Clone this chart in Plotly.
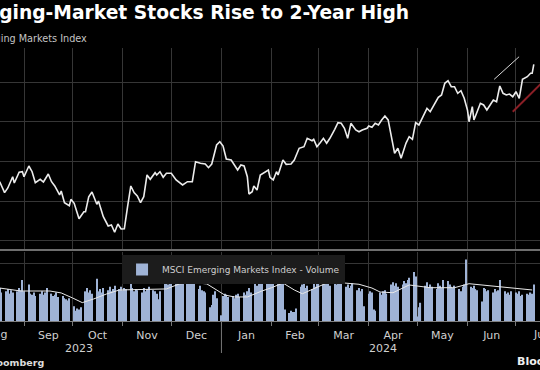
import plotly.graph_objects as go
import pandas as pd

# ---------------- data ----------------
price_dates = [
    "2023-08-17", "2023-08-20", "2023-08-22", "2023-08-25", "2023-08-26", "2023-08-29", "2023-08-31",
    "2023-09-01", "2023-09-04", "2023-09-06", "2023-09-08", "2023-09-11", "2023-09-13", "2023-09-16",
    "2023-09-18", "2023-09-20", "2023-09-23", "2023-09-24", "2023-09-26", "2023-09-29", "2023-09-30",
    "2023-10-02", "2023-10-05", "2023-10-08", "2023-10-09", "2023-10-11", "2023-10-13", "2023-10-16",
    "2023-10-17", "2023-10-20", "2023-10-23", "2023-10-25", "2023-10-27", "2023-10-29", "2023-10-31",
    "2023-11-02", "2023-11-04", "2023-11-06", "2023-11-08", "2023-11-10", "2023-11-12", "2023-11-14",
    "2023-11-16", "2023-11-18", "2023-11-21", "2023-11-22", "2023-11-24", "2023-11-26", "2023-11-28",
    "2023-12-01", "2023-12-04", "2023-12-06", "2023-12-08", "2023-12-11", "2023-12-14", "2023-12-16",
    "2023-12-19", "2023-12-22", "2023-12-24", "2023-12-26", "2023-12-29", "2023-12-31",
    "2024-01-02", "2024-01-04", "2024-01-07", "2024-01-11", "2024-01-13", "2024-01-15", "2024-01-17",
    "2024-01-18", "2024-01-20", "2024-01-21", "2024-01-23", "2024-01-25", "2024-01-27", "2024-01-30",
    "2024-01-31", "2024-02-02", "2024-02-04", "2024-02-05", "2024-02-08", "2024-02-10", "2024-02-13",
    "2024-02-15", "2024-02-18", "2024-02-21", "2024-02-23", "2024-02-26", "2024-02-27", "2024-02-29",
    "2024-03-02", "2024-03-04", "2024-03-06", "2024-03-08", "2024-03-11", "2024-03-13", "2024-03-15",
    "2024-03-17", "2024-03-19", "2024-03-21", "2024-03-24", "2024-03-26", "2024-03-28", "2024-03-31",
    "2024-04-01", "2024-04-03", "2024-04-05", "2024-04-07", "2024-04-09", "2024-04-11", "2024-04-13",
    "2024-04-15", "2024-04-17", "2024-04-19", "2024-04-21", "2024-04-22", "2024-04-24", "2024-04-26",
    "2024-04-28", "2024-04-30", "2024-05-02", "2024-05-04", "2024-05-07", "2024-05-09", "2024-05-12",
    "2024-05-14", "2024-05-16", "2024-05-18", "2024-05-20", "2024-05-22", "2024-05-24", "2024-05-26",
    "2024-05-28", "2024-05-30", "2024-06-01", "2024-06-02", "2024-06-04", "2024-06-05", "2024-06-07",
    "2024-06-09", "2024-06-11", "2024-06-13", "2024-06-15", "2024-06-17", "2024-06-19", "2024-06-21",
    "2024-06-23", "2024-06-25", "2024-06-27", "2024-06-29", "2024-07-01", "2024-07-03", "2024-07-05",
    "2024-07-08", "2024-07-10", "2024-07-11", "2024-07-12",
]
price_values = [
    974.7, 960.9, 966.8, 981.0, 973.1, 986.6, 987.3,
    981.0, 994.5, 987.3, 973.5, 977.7, 974.3, 984.4,
    974.7, 969.3, 958.0, 963.0, 948.3, 944.5, 952.5,
    947.5, 928.1, 936.9, 936.9, 955.8, 961.7, 946.2,
    950.4, 930.6, 918.9, 920.2, 911.0, 921.4, 915.1,
    915.5, 943.2, 969.3, 960.9, 956.7, 948.3, 955.8,
    983.2, 977.7, 986.1, 983.2, 987.3, 980.3, 985.3,
    985.3, 976.9, 973.5, 970.6, 974.7, 974.7, 999.9,
    997.9, 997.0, 992.4, 997.0, 1021.0, 1025.1,
    1019.7, 1003.3, 1002.1, 989.5, 995.8, 994.5, 981.0,
    959.2, 962.1, 969.3, 964.3, 983.2, 986.1, 989.5,
    980.3, 976.9, 987.3, 983.2, 1002.1, 996.6, 997.0,
    1002.1, 1016.8, 1018.8, 1029.4, 1026.4, 1028.1, 1018.8,
    1023.9, 1029.4, 1023.1, 1029.4, 1040.7, 1049.1, 1048.3,
    1042.0, 1029.4, 1048.3, 1039.9, 1037.7, 1039.9, 1042.0,
    1044.9, 1043.3, 1048.3, 1046.2, 1052.5, 1057.5, 1052.5,
    1031.4, 1010.5, 1016.8, 1004.2, 1010.5, 1023.1, 1031.4,
    1028.1, 1049.1, 1046.2, 1054.6, 1067.2, 1062.9, 1073.5,
    1081.1, 1084.0, 1098.7, 1102.0, 1094.4, 1094.4, 1086.1,
    1089.4, 1079.8, 1065.1, 1050.3, 1069.2, 1052.5, 1062.9,
    1073.5, 1071.4, 1065.1, 1071.4, 1077.7, 1075.5, 1095.3,
    1086.1, 1084.0, 1085.2, 1081.8, 1088.1, 1079.8, 1103.7,
    1107.0, 1111.3, 1111.3, 1122.6,
]

# daily volume (billions of shares, estimated), by month of trading days
vol_aug = [2.9, 2.5, 2.6, 2.8, 2.4, 2.7, 2.5, 2.6, 2.9, 2.7, 3.6]
vol_sep = [2.6, 3.2, 2.4, 2.3, 2.5, 2.2, 2.4, 2.6, 2.3, 2.5, 2.9, 2.4, 2.2, 2.3, 2.5,
           2.1, 2.2, 2.0, 1.9, 1.8, 2.0]
vol_oct = [1.3, 0.9, 1.1, 1.0, 1.2, 2.6, 2.9, 2.5, 2.7, 2.4, 3.7, 2.6, 2.8, 2.5, 2.9,
           2.7, 3.0, 2.6, 2.8, 3.1, 2.8, 3.0]
vol_nov = [2.7, 2.9, 2.8, 3.8, 2.9, 2.6, 2.8, 2.7, 2.5, 2.9, 2.6, 2.8, 3.0, 2.7, 2.6,
           2.4, 1.9, 2.6, 3.3, 3.4, 3.2, 3.8]
vol_dec = [3.5, 3.6, 3.4, 3.7, 3.5, 3.3, 4.6, 3.6, 3.4, 3.5, 3.9, 2.8, 3.1, 2.7, 2.6,
           2.5, 1.2, 1.4, 2.3, 2.6, 2.0]
vol_jan = [0.5, 2.2, 2.4, 2.3, 2.1, 2.2, 2.0, 2.3, 2.4, 2.1, 2.5, 2.3, 2.6, 2.9, 2.5,
           3.4, 3.1, 3.6, 3.3, 3.7, 3.5, 3.6, 3.4]
vol_feb = [3.9, 4.1, 3.8, 3.6, 3.9, 3.5, 1.0, 0.7, 0.9, 0.8, 0.8, 1.1, 3.0, 3.2, 3.4,
           2.9, 3.1, 2.8, 3.3, 3.0, 3.9]
vol_mar = [3.4, 3.2, 3.5, 3.3, 3.6, 3.1, 3.4, 3.2, 3.7, 3.3, 4.5, 3.0, 3.2, 2.9, 3.1,
           3.3, 2.7, 2.9, 2.6, 2.8, 1.3]
vol_apr = [2.4, 2.6, 2.5, 1.0, 0.9, 2.5, 2.3, 2.6, 2.7, 2.4, 3.2, 3.4, 3.1, 3.3, 3.0,
           3.2, 3.5, 3.3, 3.6, 3.8, 4.3, 3.9]
vol_may = [0.4, 1.2, 1.6, 3.1, 3.4, 2.9, 3.2, 3.0, 2.8, 3.3, 3.1, 2.9, 3.6, 3.5, 3.2,
           3.0, 2.9, 3.1, 2.8, 2.6, 3.0, 3.2, 5.4]
vol_jun = [3.0, 2.9, 3.1, 2.8, 2.7, 1.7, 2.9, 2.8, 2.6, 2.7, 2.5, 2.8, 2.6, 2.7, 3.6,
           2.6, 2.4, 2.5, 2.3, 2.6]
vol_jul = [2.5, 2.4, 2.6, 2.2, 2.3, 2.4, 2.3, 2.5, 2.4, 3.2]

vol_months = [
    ("2023-08-17", "2023-08-31", vol_aug), ("2023-09-01", "2023-09-30", vol_sep),
    ("2023-10-01", "2023-10-31", vol_oct), ("2023-11-01", "2023-11-30", vol_nov),
    ("2023-12-01", "2023-12-31", vol_dec), ("2024-01-01", "2024-01-31", vol_jan),
    ("2024-02-01", "2024-02-29", vol_feb), ("2024-03-01", "2024-03-31", vol_mar),
    ("2024-04-01", "2024-04-30", vol_apr), ("2024-05-01", "2024-05-31", vol_may),
    ("2024-06-01", "2024-06-30", vol_jun), ("2024-07-01", "2024-07-12", vol_jul),
]

# volume moving-average line
ma_dates = [
    "2023-08-17", "2023-08-30", "2023-09-17", "2023-09-24", "2023-10-01", "2023-10-07",
    "2023-10-14", "2023-10-22", "2023-10-30", "2023-11-14", "2023-11-28", "2023-12-06",
    "2023-12-15", "2023-12-23", "2023-12-28", "2024-01-03", "2024-01-09", "2024-01-17",
    "2024-01-26", "2024-02-01", "2024-02-08", "2024-02-15", "2024-02-20", "2024-02-28",
    "2024-03-06", "2024-03-17", "2024-03-26", "2024-04-03", "2024-04-08", "2024-04-16",
    "2024-04-26", "2024-05-09", "2024-05-24", "2024-06-02", "2024-06-23", "2024-07-03",
    "2024-07-11",
]
ma_values = [
    2.89, 2.63, 2.63, 2.46, 2.02, 1.61, 1.93, 2.37, 2.72, 2.76, 2.81, 3.25,
    3.36, 3.25, 2.81, 2.28, 2.11, 2.11, 2.63, 2.92, 3.33, 2.72, 2.39, 2.89,
    3.33, 3.33, 3.22, 2.89, 2.54, 2.48, 3.16, 2.92, 2.92, 3.27, 2.98, 2.81,
    2.72,
]

month_tick_start = "2023-08-01"
x_range = ["2023-08-17 04:00", "2024-07-15 20:00"]
price_range = [889.9, 1143.2]
price_grid = [900, 950, 1000, 1050, 1100]
vol_range = [0, 6.05]
vol_grid = [5]
year_labels = ["2023", "2024"]
year_centers = ["2023-10-05", "2024-04-10"]
year_break = "2024-01-01"
edge_month_labels = ["Aug", "Jul"]
trend_white = (["2024-06-17 12:00", "2024-07-02 22:00"], [1103.7, 1132.2])
trend_red = (["2024-06-29", "2024-07-22"], [1062.9, 1109.5])

vol_dates, vol_values = [], []
for start, end, vals in vol_months:
    days = pd.bdate_range(start, end)
    n = min(len(days), len(vals))
    vol_dates += [d.strftime("%Y-%m-%d") for d in days[:n]]
    vol_values += vals[:n]

# ---------------- layout helpers ----------------
W, H = 540, 370
M_T, M_B = 48, 14
PH = H - M_T - M_B


def py(ypx):
    return (H - M_B - ypx) / PH


FONT = "DejaVu Sans"
GRID = "#363636"
BG = "#000000"
TICK_COLOR = "#d0d0d0"

fig = go.Figure()

fig.add_trace(go.Scatter(
    x=price_dates, y=price_values, mode="lines",
    line=dict(color="#ececec", width=1.6),
    xaxis="x", yaxis="y", showlegend=False, hoverinfo="skip",
))

fig.add_trace(go.Bar(
    x=vol_dates, y=vol_values, xaxis="x2", yaxis="y2",
    marker=dict(color="#9fb3d6", line=dict(width=0)),
    name="MSCI Emerging Markets Index - Volume", showlegend=True,
))

fig.add_trace(go.Scatter(
    x=ma_dates, y=ma_values, mode="lines",
    line=dict(color="#e8e8e8", width=1),
    xaxis="x2", yaxis="y2", showlegend=False, hoverinfo="skip",
))

common_x = dict(
    range=x_range, type="date", dtick="M1", tick0=month_tick_start,
    showgrid=True, gridcolor=GRID, gridwidth=1, zeroline=False,
)

fig.update_layout(
    width=W, height=H,
    margin=dict(l=0, r=0, t=M_T, b=M_B, pad=0),
    paper_bgcolor=BG, plot_bgcolor=BG,
    font=dict(family=FONT, color="#cccccc"),
    bargap=0.3,
    xaxis=dict(**common_x, domain=[0, 1], anchor="y", showticklabels=False, ticks=""),
    xaxis2=dict(**common_x, domain=[0, 1], anchor="y2", matches="x",
                showticklabels=True, ticks="outside", ticklen=4, tickcolor="#777777",
                ticklabelmode="period", tickformat="%b",
                tickfont=dict(family=FONT, size=11, color=TICK_COLOR),
                showline=True, linecolor="#808080", linewidth=1),
    yaxis=dict(domain=[py(249), 1], range=price_range, tickvals=price_grid,
               showticklabels=False, showgrid=True, gridcolor=GRID, zeroline=False),
    yaxis2=dict(domain=[py(321), py(252)], range=vol_range, tickvals=vol_grid,
                showticklabels=False, showgrid=True, gridcolor=GRID, zeroline=False),
    legend=dict(x=0.226, y=py(255), xanchor="left", yanchor="top",
                bgcolor="#1c1c1c", borderwidth=0,
                font=dict(family=FONT, size=9, color="#cfcfcf")),
    shapes=[
        dict(type="line", xref="paper", yref="paper", x0=0, x1=1, y0=py(250), y1=py(250),
             line=dict(color="#6e6e6e", width=2)),
        dict(type="line", xref="x2", yref="paper", x0=year_break, x1=year_break,
             y0=py(353), y1=py(321), line=dict(color="#777777", width=1)),
        dict(type="line", xref="x", yref="y",
             x0=trend_white[0][0], x1=trend_white[0][1], y0=trend_white[1][0], y1=trend_white[1][1],
             line=dict(color="#d8d8d8", width=1)),
        dict(type="line", xref="x", yref="y",
             x0=trend_red[0][0], x1=trend_red[0][1], y0=trend_red[1][0], y1=trend_red[1][1],
             line=dict(color="#8a1f26", width=2)),
    ],
)

annotations = [
    dict(text="<b>Emerging-Market Stocks Rise to 2-Year High</b>", xref="paper", yref="paper",
         x=411 / W, y=py(12), xanchor="right", yanchor="middle", showarrow=False,
         font=dict(family=FONT, size=18.7, color="#ffffff")),
    dict(text="MSCI Emerging Markets Index", xref="paper", yref="paper",
         x=89 / W, y=py(38.5), xanchor="right", yanchor="middle", showarrow=False,
         font=dict(family=FONT, size=9.7, color="#c4c4c4")),
    dict(text="<b>Source: Bloomberg</b>", xref="paper", yref="paper",
         x=46 / W, y=py(362.5), xanchor="right", yanchor="middle", showarrow=False,
         font=dict(family=FONT, size=9.5, color="#dddddd")),
    dict(text="<b>Bloomberg</b>", xref="paper", yref="paper",
         x=515 / W, y=py(361.5), xanchor="left", yanchor="middle", showarrow=False,
         font=dict(family=FONT, size=11, color="#eeeeee")),
    # month labels of the partly visible edge periods
    dict(text=edge_month_labels[0], xref="paper", yref="paper",
         x=9 / W, y=py(334), xanchor="right", yanchor="middle", showarrow=False,
         font=dict(family=FONT, size=11, color=TICK_COLOR)),
    dict(text=edge_month_labels[1], xref="paper", yref="paper",
         x=531 / W, y=py(334), xanchor="left", yanchor="middle", showarrow=False,
         font=dict(family=FONT, size=11, color=TICK_COLOR)),
]
for lab, pos in zip(year_labels, year_centers):
    annotations.append(dict(text=lab, xref="x2", yref="paper", x=pos, y=py(348),
                            xanchor="center", yanchor="middle", showarrow=False,
                            font=dict(family=FONT, size=11, color=TICK_COLOR)))
fig.update_layout(annotations=annotations)

fig.write_html(
    "out.html",
    config={"displayModeBar": False},
    post_script="document.body.style.margin='0';document.body.style.background='#000';",
)
